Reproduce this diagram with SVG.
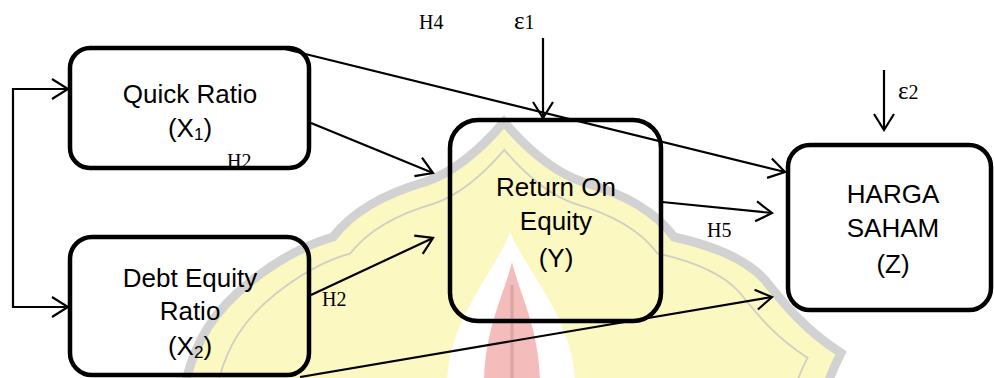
<svg xmlns="http://www.w3.org/2000/svg" width="994" height="378" viewBox="0 0 994 378">
<style>
.box{fill:none;stroke:#000;stroke-width:4.5}
.lbl{font-family:"Liberation Sans",Arial,sans-serif;font-size:26px;fill:#000;text-anchor:middle}
.hyp{font-family:"Liberation Serif","Times New Roman",serif;font-size:20px;fill:#000}
.con{fill:none;stroke:#000;stroke-width:2.2}
</style>
<defs>
<marker id="arr" markerUnits="userSpaceOnUse" markerWidth="20" markerHeight="24" viewBox="0 0 20 24" refX="18" refY="12" orient="auto-start-reverse">
<path d="M2,2 L18,12 L2,22" fill="none" stroke="#000" stroke-width="2.2"/>
</marker>
</defs>
<rect width="994" height="378" fill="#fff"/>
<g id="watermark">
<path d="M185,385 C195,340 215,310 250,282 C275,262 305,245 333,237 C350,215 380,195 425,182 C455,172 480,150 504,122 C528,150 553,172 583,182 C628,195 658,215 674,237 C710,245 745,258 765,280 C785,305 805,330 841,353 C835,365 830,375 828,385 Z" fill="#fcf8c2" stroke="#d2d2d2" stroke-width="9"/>
<path d="M185,385 C195,340 215,310 250,282 C275,262 305,245 333,237 C350,215 380,195 425,182 C455,172 480,150 504,122 C528,150 553,172 583,182 C628,195 658,215 674,237 C710,245 745,258 765,280 C785,305 805,330 841,353 C835,365 830,375 828,385 Z" transform="translate(507,400) scale(0.9) translate(-507,-400)" fill="none" stroke="#cfcfc4" stroke-width="2"/>
<path d="M510,232 C525,270 575,320 575,385 L447,385 C447,320 497,270 510,232 Z" fill="#ffffff"/>
<path d="M512,262 C520,295 540,330 540,385 L484,385 C484,330 504,295 512,262 Z" fill="#f5bcbc"/>
<path d="M512,285 V378" stroke="#d6a6a6" stroke-width="3"/>
</g>
<g id="connectors">
<path class="con" d="M285,49 L785,172" marker-end="url(#arr)"/>
<path class="con" d="M311,123 L433,173" marker-end="url(#arr)"/>
<path class="con" d="M311,295 L433,238" marker-end="url(#arr)"/>
<path class="con" d="M300,377 L772,297" marker-end="url(#arr)"/>
<path class="con" d="M662,202 L772,213" marker-end="url(#arr)"/>
<path class="con" d="M543,38 L543,118" marker-end="url(#arr)"/>
<path class="con" d="M884,70 L884,130" marker-end="url(#arr)"/>
<path class="con" d="M68,89 H13 V307 H68" stroke-width="1.5" marker-start="url(#arr)" marker-end="url(#arr)"/>
</g>
<g id="quick-ratio">
<rect class="box" x="70" y="48" width="239" height="120" rx="20"/>
<text class="lbl" x="190" y="103">Quick Ratio</text>
<text class="lbl" x="190" y="137">(X<tspan font-size="17" dy="3">1</tspan><tspan dy="-3">)</tspan></text>
</g>
<g id="debt-equity-ratio">
<rect class="box" x="70" y="237" width="239" height="138" rx="22"/>
<text class="lbl" x="190" y="287">Debt Equity</text>
<text class="lbl" x="190" y="320">Ratio</text>
<text class="lbl" x="190" y="355">(X<tspan font-size="17" dy="3">2</tspan><tspan dy="-3">)</tspan></text>
</g>
<g id="return-on-equity">
<rect class="box" x="450" y="120" width="211" height="201" rx="28"/>
<text class="lbl" x="556" y="196">Return On</text>
<text class="lbl" x="556" y="230">Equity</text>
<text class="lbl" x="556" y="267">(Y)</text>
</g>
<g id="harga-saham">
<rect class="box" x="788" y="145" width="203" height="165" rx="22"/>
<text class="lbl" x="893" y="203">HARGA</text>
<text class="lbl" x="893" y="237">SAHAM</text>
<text class="lbl" x="893" y="273">(Z)</text>
</g>
<g id="labels">
<text class="hyp" x="419" y="29">H4</text>
<text class="hyp" x="514" y="29" font-size="18"><tspan font-size="25">ε</tspan>1</text>
<text class="hyp" x="898" y="99" font-size="18"><tspan font-size="25">ε</tspan>2</text>
<text class="hyp" x="227" y="168">H2</text>
<text class="hyp" x="322" y="306">H2</text>
<text class="hyp" x="707" y="237">H5</text>
</g>
</svg>
